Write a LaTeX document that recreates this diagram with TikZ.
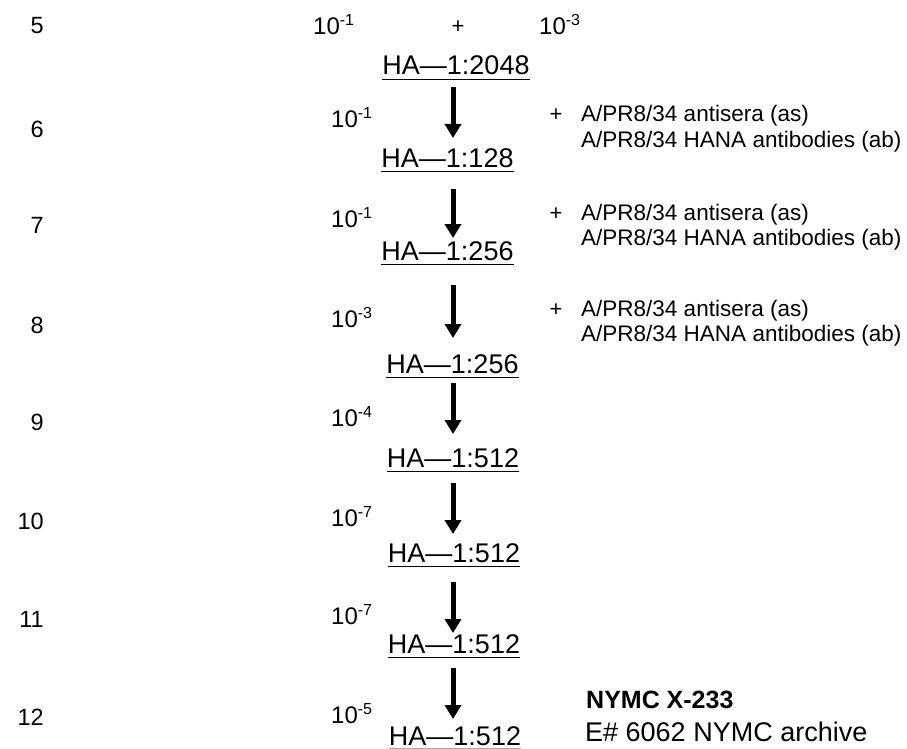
\documentclass[tikz,border=0pt]{standalone}
\usepackage{fontspec}
\setmainfont{Liberation Sans}
\usetikzlibrary{arrows.meta}
\newcommand{\tenexp}[1]{10\raisebox{9pt}{\fontsize{16}{16}\selectfont #1}}
\begin{document}
\begin{tikzpicture}[x=1pt,y=-1pt,
  rownum/.style={anchor=base east,inner sep=0,font=\fontsize{23.5}{23.5}\selectfont},
  dil/.style={anchor=base west,inner sep=0,font=\fontsize{24}{24}\selectfont},
  hanode/.style={anchor=base,inner sep=0,font=\fontsize{27}{27}\selectfont},
  note/.style={anchor=base west,inner sep=0,font=\fontsize{22.5}{22.5}\selectfont},
  plusmark/.style={anchor=base,inner sep=0,font=\fontsize{22}{22}\selectfont},
  ulin/.style={line width=1.6pt},
  arr/.style={line width=5pt,-{Triangle[width=16pt,length=14pt]}}]
\useasboundingbox[fill=white] (0,0) rectangle (907,749);
% row numbers
\node[rownum] (r5) at (44,34) {5};
\node[rownum] (r6) at (44,137) {6};
\node[rownum] (r7) at (44,233) {7};
\node[rownum] (r8) at (44,333) {8};
\node[rownum] (r9) at (44,430) {9};
\node[rownum] (r10) at (44,529) {10};
\node[rownum] (r11) at (44,627) {11};
\node[rownum] (r12) at (44,725) {12};
% row 5 dilutions
\node[dil] (d5a) at (313,35) {\tenexp{-1}};
\node[plusmark] (p5) at (458,34) {+};
\node[dil] (d5b) at (539,35) {\tenexp{-3}};
% dilutions
\node[dil] (d6) at (331,128) {\tenexp{-1}};
\node[dil] (d7) at (331,227) {\tenexp{-1}};
\node[dil] (d8) at (331,327) {\tenexp{-3}};
\node[dil] (d9) at (331,426) {\tenexp{-4}};
\node[dil] (d10) at (331,526) {\tenexp{-7}};
\node[dil] (d11) at (331,624) {\tenexp{-7}};
\node[dil] (d12) at (331,723) {\tenexp{-5}};
% HA titres
\node[hanode] (h5) at (456,75) {HA—1:2048};
\node[hanode] (h6) at (447.5,167) {HA—1:128};
\node[hanode] (h7) at (447.5,260) {HA—1:256};
\node[hanode] (h8) at (452.5,373) {HA—1:256};
\node[hanode] (h9) at (453,467) {HA—1:512};
\node[hanode] (h10) at (454,562) {HA—1:512};
\node[hanode] (h11) at (454,653) {HA—1:512};
\node[hanode] (h12) at (455,745) {HA—1:512};
\foreach \n in {h5,h6,h7,h8,h9,h10,h11}{
  \draw[ulin] ([yshift=-4.5pt]\n.base west) -- ([yshift=-4.5pt]\n.base east);
}
\draw[ulin,black!35] ([yshift=-3.5pt]h12.base west) -- ([yshift=-3.5pt]h12.base east);
% arrows
\coordinate (a1s) at (453,87);  \coordinate (a1e) at (453,138);
\coordinate (a2s) at (453,189); \coordinate (a2e) at (453,238);
\coordinate (a3s) at (453,285); \coordinate (a3e) at (453,338);
\coordinate (a4s) at (453,383); \coordinate (a4e) at (453,434);
\coordinate (a5s) at (453,483); \coordinate (a5e) at (453,534);
\coordinate (a6s) at (453,582); \coordinate (a6e) at (453,633);
\coordinate (a7s) at (453,668); \coordinate (a7e) at (453,719);
\foreach \i in {1,...,7}{\draw[arr] (a\i s) -- (a\i e);}
% antisera notes
\node[plusmark] (p6) at (556,122) {+};
\node[note] (n6a) at (581,122) {A/PR8/34 antisera (as)};
\node[note] (n6b) at (581,147) {A/PR8/34 HANA antibodies (ab)};
\node[plusmark] (p7) at (556,220) {+};
\node[note] (n7a) at (581,220) {A/PR8/34 antisera (as)};
\node[note] (n7b) at (581,245) {A/PR8/34 HANA antibodies (ab)};
\node[plusmark] (p8) at (556,316) {+};
\node[note] (n8a) at (581,316) {A/PR8/34 antisera (as)};
\node[note] (n8b) at (581,341) {A/PR8/34 HANA antibodies (ab)};
% final strain
\node[anchor=base west,inner sep=0,font=\fontsize{25}{25}\selectfont\bfseries] (x233) at (586,708) {NYMC X-233};
\node[anchor=base west,inner sep=0,font=\fontsize{27}{27}\selectfont] (arch) at (585,741) {E\# 6062 NYMC archive};
\end{tikzpicture}
\end{document}
